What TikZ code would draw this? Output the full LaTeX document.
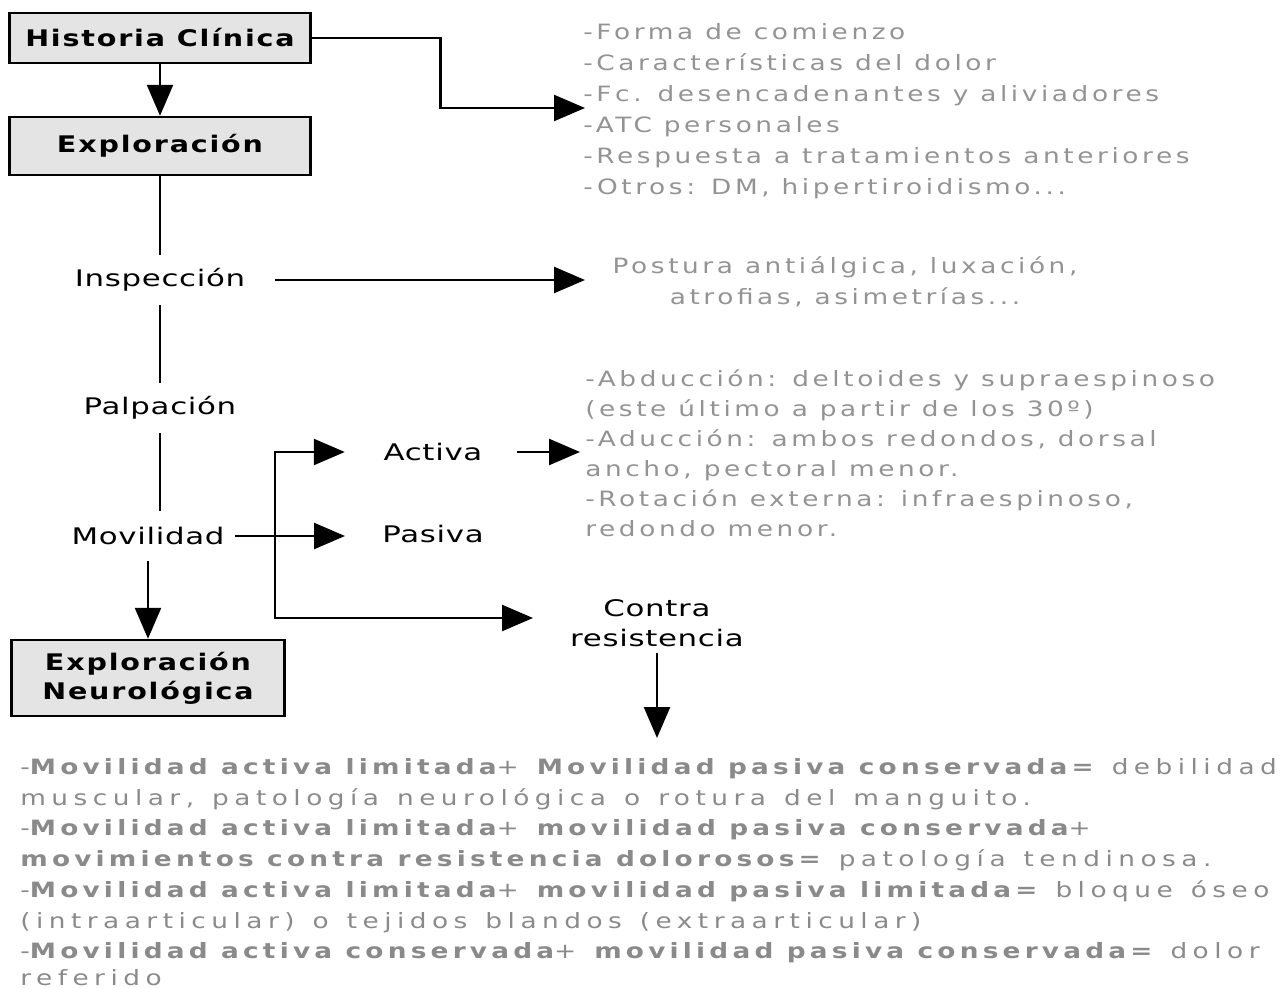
\documentclass[tikz,border=0pt]{standalone}
\usepackage{fontspec}
\setmainfont{DejaVu Sans}[FakeStretch=1.25,LetterSpace=17]
\newfontfamily\boxfont{DejaVu Sans}[FakeStretch=1.25,LetterSpace=8]
\newfontfamily\lblfont{DejaVu Sans}[FakeStretch=1.35,LetterSpace=3]
\newfontfamily\bodyfont{DejaVu Sans}[FakeStretch=1.25,LetterSpace=26,WordSpace=1.3]
\newfontfamily\bodybold{DejaVu Sans}[FakeStretch=1.25,LetterSpace=20]
\newcommand{\hl}[1]{{\bodybold\bfseries #1}}
\usepackage{tikz}
\usetikzlibrary{arrows.meta,positioning}

\definecolor{boxgray}{HTML}{E4E4E4}
\definecolor{notegray}{HTML}{939393}
\definecolor{bodygray}{HTML}{8A8A8A}

\tikzset{
  box/.style={draw,fill=boxgray,line width=1.4pt,font=\boxfont\fontsize{13}{16.4}\selectfont\bfseries,minimum width=6.02cm,minimum height=1cm,inner sep=2pt},
  lbl/.style={font=\lblfont\fontsize{13}{17}\selectfont,minimum height=1cm,inner xsep=2pt},
  note/.style={text=notegray,font=\fontsize{12}{17.7}\selectfont,align=left,inner sep=0pt},
  body/.style={text=bodygray,font=\bodyfont\fontsize{12}{17.4}\selectfont,anchor=base west,inner sep=0pt},
  ln/.style={line width=1.4pt},
  arr/.style={ln,-{Triangle[length=0.62cm,width=0.52cm]}}
}

\begin{document}
\begin{tikzpicture}[x=0.02cm,y=-0.02cm]
    \useasboundingbox (0,0) rectangle (1287,989);
    % left column
    \node[box] (hc) at (160,38) {Historia Clínica};
    \node[box,minimum height=1.16cm] (expl) at (160,146) {Exploración};
    \node[lbl] (insp) at (160,280) {Inspección};
    \node[lbl] (palp) at (160,408) {Palpación};
    \node[lbl] (movil) at (148,536) {Movilidad};
    \node[box,minimum width=5.46cm,minimum height=1.52cm,align=center] (neuro) at (148,678) {Exploración\\Neurológica};
    \draw[arr] (hc) -- (expl);
    \draw[ln] (expl) -- (insp);
    \draw[ln] (insp) -- (palp);
    \draw[ln] (palp) -- (palp |- movil.north);
    \draw[arr] (movil) -- (neuro);
    % historia
    \node[note,anchor=north west] (hclist) at (583,23) {-Forma de comienzo\\-Características del dolor\\-Fc. desencadenantes y aliviadores\\-ATC personales\\-Respuesta a tratamientos anteriores\\-Otros: DM, hipertiroidismo...};
    \coordinate (hctip) at (585,108);
    \draw[arr] (hc.east) -- ++(129,0) |- (hctip);
    % inspeccion
    \node[note,align=center] (postura) at (845,282) {Postura antiálgica, luxación,\\atrofias, asimetrías...};
    \coordinate (insptip) at (585,280);
    \draw[arr] ([xshift=0.52cm]insp.east) -- (insptip);
    % movilidad
    \node[lbl] (activa) at (433,452) {Activa};
    \node[lbl] (pasiva) at (433,534) {Pasiva};
    \node[lbl,align=center] (contra) at (657,623) {Contra\\resistencia};
    \coordinate (split) at (275,536);
    \coordinate (contip) at (533,618);
    \draw[arr] ([xshift=0.14cm]movil.east) -- (movil.east -| 345,0);
    \draw[arr] (split) |- ([xshift=-0.7cm]activa.west);
    \draw[arr] (split) |- (contip);
    \node[note,anchor=north west,font=\fontsize{12}{17.1}\selectfont] (abd) at (585,369) {-Abducción: deltoides y supraespinoso\\(este último a partir de los 30º)\\-Aducción: ambos redondos, dorsal\\ancho, pectoral menor.\\-Rotación externa: infraespinoso,\\redondo menor.};
    \coordinate (abdtip) at (580,452);
    \draw[arr] ([xshift=0.62cm]activa.east) -- (abdtip);
    \coordinate (bodytip) at (657,738);
    \draw[arr] (contra) -- (bodytip);
    % conclusiones
    \node[body] (b1) at (20,774) {-\hl{Movilidad activa limitada}+ \hl{Movilidad pasiva conservada=} debilidad};
    \node[body] (b2) at (20,805) {muscular, patología neurológica o rotura del manguito.};
    \node[body] (b3) at (20,835) {-\hl{Movilidad activa limitada}+ \hl{movilidad pasiva conservada}+};
    \node[body] (b4) at (20,866) {\hl{movimientos contra resistencia dolorosos=} patología tendinosa.};
    \node[body] (b5) at (20,897) {-\hl{Movilidad activa limitada}+ \hl{movilidad pasiva limitada=} bloque óseo};
    \node[body] (b6) at (20,928) {(intraarticular) o tejidos blandos (extraarticular)};
    \node[body] (b7) at (20,958) {-\hl{Movilidad activa conservada}+ \hl{movilidad pasiva conservada=} dolor};
    \node[body] (b8) at (20,985) {referido};
\end{tikzpicture}
\end{document}
